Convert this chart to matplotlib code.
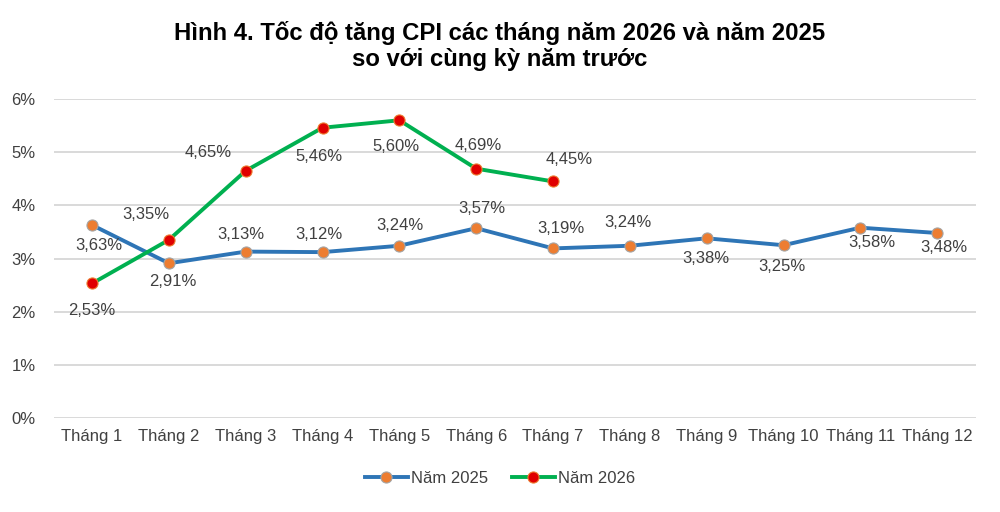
import matplotlib
matplotlib.use("Agg")
import matplotlib.pyplot as plt

months = ["Tháng 1", "Tháng 2", "Tháng 3", "Tháng 4", "Tháng 5", "Tháng 6",
          "Tháng 7", "Tháng 8", "Tháng 9", "Tháng 10", "Tháng 11", "Tháng 12"]
cpi_2025 = [3.63, 2.91, 3.13, 3.12, 3.24, 3.57, 3.19, 3.24, 3.38, 3.25, 3.58, 3.48]
cpi_2026 = [2.53, 3.35, 4.65, 5.46, 5.60, 4.69, 4.45]
yticks = [0, 1, 2, 3, 4, 5, 6]

# label offsets (pixels)
off_2025 = [(7, -20), (4, -18), (-5, 17), (-4, 18), (1, 20), (6, 20), (8, 20), (-2, 23), (-1, -20), (-2, -21), (12, -15), (7, -15)]
off_2026 = [(0, -27), (-23, 25), (-37, 18), (-4, -29), (-3, -26), (2, 23), (16, 22)]

plt.rcParams['font.family'] = ['Liberation Sans', 'DejaVu Sans']
fig = plt.figure(figsize=(10, 5.12), dpi=100)
ax = fig.add_axes([0.0536, 0.1836, 0.922, 0.623])

x25 = list(range(len(cpi_2025)))
x26 = list(range(len(cpi_2026)))
ax.plot(x25, cpi_2025, color="#2E75B6", lw=2.8, marker="o", ms=8,
        mfc="#ED7D31", mec="#A5A5A5", mew=0.8, label="Năm 2025", zorder=3)
ax.plot(x26, cpi_2026, color="#00B050", lw=2.8, marker="o", ms=8,
        mfc="#E00000", mec="#ED7D31", mew=0.8, label="Năm 2026", zorder=4)

txtcol = "#404040"
fs = 12
for x, v, o in zip(x25, cpi_2025, off_2025):
    ax.annotate(f"{v:.2f}%".replace(".", ","), (x, v), xytext=o, textcoords="offset pixels",
                ha="center", va="center", fontsize=fs, color=txtcol)
for x, v, o in zip(x26, cpi_2026, off_2026):
    ax.annotate(f"{v:.2f}%".replace(".", ","), (x, v), xytext=o, textcoords="offset pixels",
                ha="center", va="center", fontsize=fs, color=txtcol)

ax.set_xlim(-0.5, 11.5)
ax.set_ylim(0, 6)
ax.set_yticks(yticks)
ax.set_yticklabels([f"{t}%" for t in yticks])
ax.set_xticks(x25)
ax.set_xticklabels(months)
ax.yaxis.grid(True, color="#D9D9D9", lw=1.4)
ax.set_axisbelow(True)
for s in ax.spines.values():
    s.set_visible(False)
ax.tick_params(axis="both", length=0, labelsize=fs, labelcolor=txtcol)
ax.tick_params(axis="y", pad=13)
ax.tick_params(axis="x", pad=8)

fig.text(0.5, 0.91, "Hình 4. Tốc độ tăng CPI các tháng năm 2026 và năm 2025\nso với cùng kỳ năm trước",
         ha="center", va="center", fontsize=17.2, fontweight="bold", color="#000000", linespacing=1.15)

leg = fig.legend(loc="center", bbox_to_anchor=(0.5, 0.066), ncol=2, frameon=False,
                 fontsize=12, handlelength=2.6, columnspacing=1.4, handletextpad=0.2)
for t in leg.get_texts():
    t.set_color(txtcol)

fig.savefig("out.png", dpi=100, facecolor="white")
